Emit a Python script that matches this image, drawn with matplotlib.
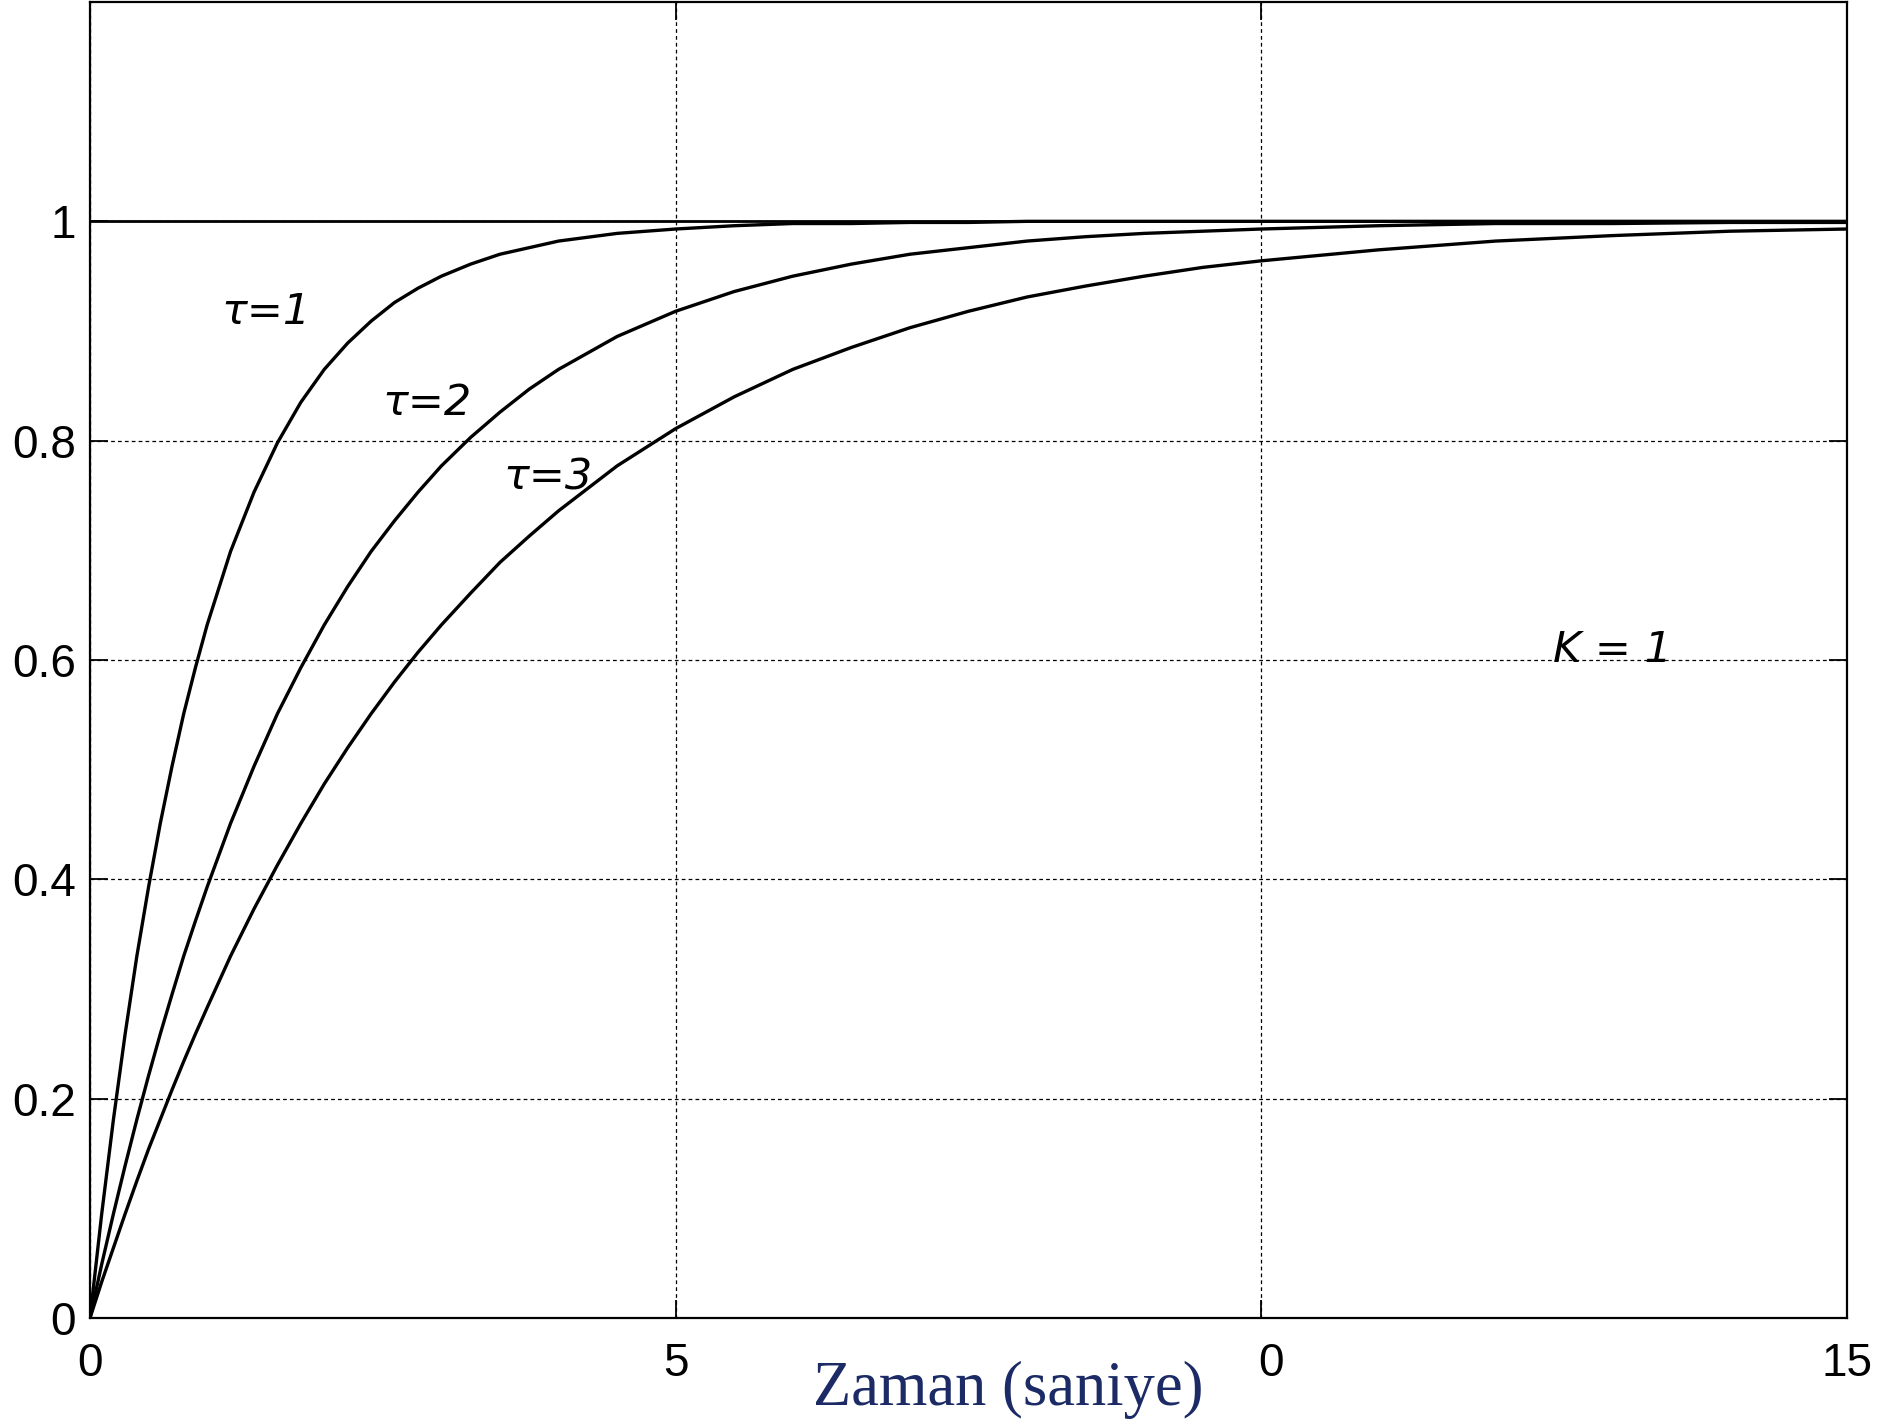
import matplotlib
matplotlib.use("Agg")
import matplotlib.pyplot as plt
import matplotlib.transforms as mtransforms

# ---- data ----
t = [0, 0.1, 0.2, 0.3, 0.4, 0.5, 0.6, 0.7, 0.8, 0.9, 1.0, 1.2, 1.4, 1.6, 1.8,
     2.0, 2.2, 2.4, 2.6, 2.8, 3.0, 3.25, 3.5, 3.75, 4.0, 4.5, 5, 5.5, 6, 6.5,
     7, 7.5, 8, 8.5, 9, 9.5, 10, 11, 12, 13, 14, 15]
y_tau1 = [0.000, 0.095, 0.181, 0.259, 0.330, 0.393, 0.451, 0.503, 0.551, 0.593,
          0.632, 0.699, 0.753, 0.798, 0.835, 0.865, 0.889, 0.909, 0.926, 0.939,
          0.950, 0.961, 0.970, 0.976, 0.982, 0.989, 0.993, 0.996, 0.998, 0.998,
          0.999, 0.999, 1.000, 1.000, 1.000, 1.000, 1.000, 1.000, 1.000, 1.000,
          1.000, 1.000]
y_tau2 = [0.000, 0.049, 0.095, 0.139, 0.181, 0.221, 0.259, 0.295, 0.330, 0.362,
          0.393, 0.451, 0.503, 0.551, 0.593, 0.632, 0.667, 0.699, 0.727, 0.753,
          0.777, 0.803, 0.826, 0.847, 0.865, 0.895, 0.918, 0.936, 0.950, 0.961,
          0.970, 0.976, 0.982, 0.986, 0.989, 0.991, 0.993, 0.996, 0.998, 0.998,
          0.999, 0.999]
y_tau3 = [0.000, 0.033, 0.064, 0.095, 0.125, 0.154, 0.181, 0.208, 0.234, 0.259,
          0.283, 0.330, 0.373, 0.413, 0.451, 0.487, 0.520, 0.551, 0.580, 0.607,
          0.632, 0.661, 0.689, 0.713, 0.736, 0.777, 0.811, 0.840, 0.865, 0.885,
          0.903, 0.918, 0.931, 0.941, 0.950, 0.958, 0.964, 0.974, 0.982, 0.987,
          0.991, 0.993]
step_t = [0, 15]
step_y = [1, 1]

x_ticks = [0, 5, 10, 15]
x_tick_labels = ["0", "5", "0", "15"]
y_ticks = [0, 0.2, 0.4, 0.6, 0.8, 1.0]
y_tick_labels = ["0", "0.2", "0.4", "0.6", "0.8", "1"]

labels = ["\u03c4=1", "\u03c4=2", "\u03c4=3", "K = 1"]
label_x = [1.50, 2.88, 3.91, 13.0]
label_y = [0.917, 0.834, 0.766, 0.609]

# ---- figure ----
W, H = 1883, 1425
fig = plt.figure(figsize=(W / 100, H / 100), dpi=100)
ax = fig.add_axes([90 / W, 1 - 1318 / H, (1847 - 90) / W, (1318 - 2) / H])

ax.plot(step_t, step_y, color="black", lw=2.0, solid_capstyle="butt")
for yy in (y_tau1, y_tau2, y_tau3):
    ax.plot(t, yy, color="black", lw=2.4, solid_joinstyle="round")

ax.set_xlim(0, 15)
ax.set_ylim(0, 1.2)
ax.set_xticks(x_ticks)
ax.set_xticklabels(x_tick_labels)
ax.set_yticks(y_ticks)
ax.set_yticklabels(y_tick_labels)

ax.grid(True, color="black", linestyle=(0, (3, 2.5)), linewidth=0.9)
ax.tick_params(direction="in", length=13, width=1.3, top=True, right=True,
               labelsize=33, colors="black")
ax.tick_params(axis="x", pad=17)
ax.tick_params(axis="y", pad=10)
for lab in ax.get_xticklabels() + ax.get_yticklabels():
    lab.set_fontfamily("Liberation Sans")
for s in ax.spines.values():
    s.set_linewidth(1.6)

# the "0" under 10 sits where the 0 of "10" would be
xl = ax.get_xticklabels()
off = mtransforms.ScaledTranslation(10 / 100, 0, fig.dpi_scale_trans)
xl[2].set_transform(xl[2].get_transform() + off)

for s_, xx, yy in zip(labels, label_x, label_y):
    ax.text(xx, yy, s_, fontsize=31, style="italic", ha="center", va="center",
            family="DejaVu Sans", color="black")

fig.text(1008 / W, 1 - 1405 / H, "Zaman (saniye)", family="Liberation Serif",
         fontsize=45, color="#1c2a66", ha="center", va="baseline")

fig.savefig("out.png", dpi=100)
